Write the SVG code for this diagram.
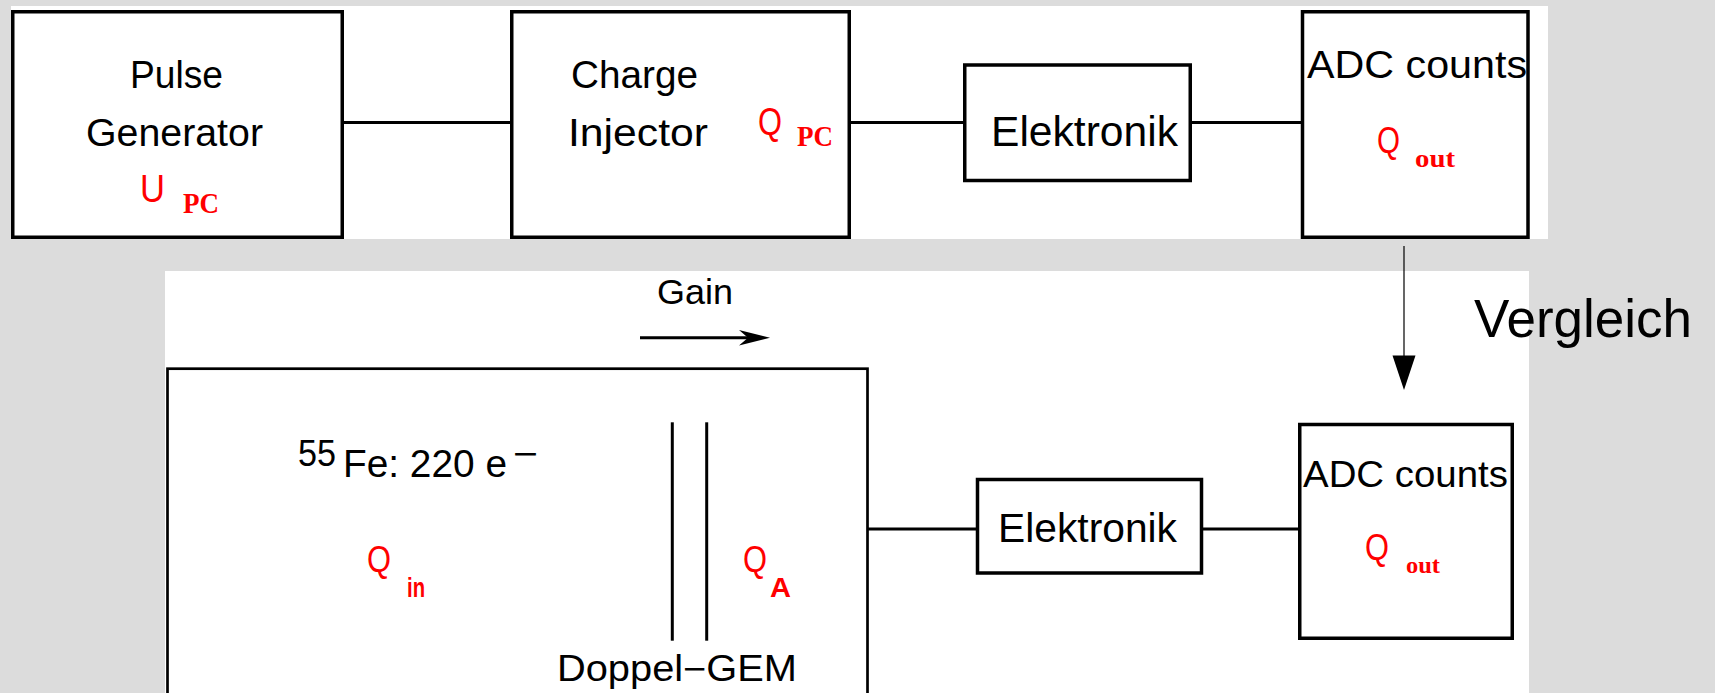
<svg xmlns="http://www.w3.org/2000/svg" width="1715" height="693" viewBox="0 0 1715 693">
<style>
.box{fill:#ffffff;stroke:#000000;stroke-width:3.5}
.bigbox{fill:#ffffff;stroke:#000000;stroke-width:2.7}
.wire{stroke:#000000;stroke-width:3;fill:none}
.t{font-family:"Liberation Sans",Arial,sans-serif;fill:#000000}
.q{font-family:"Liberation Sans",Arial,sans-serif;fill:#ff0000}
.sub{font-family:"Liberation Serif","Times New Roman",serif;font-weight:bold;fill:#ff0000}
.subs{font-family:"Liberation Sans",Arial,sans-serif;font-weight:bold;fill:#ff0000}
</style>
<rect x="0" y="0" width="1715" height="693" fill="#dcdcdc"/>
<rect x="11" y="6" width="1537" height="233" fill="#ffffff"/>
<rect x="165" y="271" width="1364" height="422" fill="#ffffff"/>

<g id="connectors">
<line class="wire" x1="344" y1="122.5" x2="510" y2="122.5"/>
<line class="wire" x1="851" y1="122.5" x2="963" y2="122.5"/>
<line class="wire" x1="1192" y1="122.5" x2="1301" y2="122.5"/>
<line x1="1404" y1="246" x2="1404" y2="360" stroke="#000" stroke-width="1.2"/>
<polygon points="1404,390 1392.5,355.5 1415.5,355.5" fill="#000"/>
<line class="wire" x1="868" y1="529" x2="976" y2="529"/>
<line class="wire" x1="1203" y1="529" x2="1298" y2="529"/>
</g>

<g id="pulse-generator">
<rect class="box" x="12.75" y="11.75" width="329.5" height="225.5"/>
<text class="t" x="130" y="88" font-size="38" textLength="93" lengthAdjust="spacingAndGlyphs">Pulse</text>
<text class="t" x="86" y="146" font-size="38" textLength="177" lengthAdjust="spacingAndGlyphs">Generator</text>
<text class="q" x="140" y="202" font-size="38" textLength="25" lengthAdjust="spacingAndGlyphs">U</text>
<text class="sub" x="183" y="213" font-size="30" textLength="36" lengthAdjust="spacingAndGlyphs">PC</text>
</g>

<g id="charge-injector">
<rect class="box" x="511.75" y="11.75" width="337.5" height="225.5"/>
<text class="t" x="571" y="88" font-size="38" textLength="127" lengthAdjust="spacingAndGlyphs">Charge</text>
<text class="t" x="568" y="146" font-size="38" textLength="140" lengthAdjust="spacingAndGlyphs">Injector</text>
<text class="q" x="758" y="135" font-size="38" textLength="24" lengthAdjust="spacingAndGlyphs">Q</text>
<text class="sub" x="797" y="146" font-size="30" textLength="36" lengthAdjust="spacingAndGlyphs">PC</text>
</g>

<g id="elektronik-top">
<rect class="box" x="964.75" y="65" width="225.5" height="115.5"/>
<text class="t" x="991" y="146" font-size="42" textLength="187" lengthAdjust="spacingAndGlyphs">Elektronik</text>
</g>

<g id="adc-top">
<rect class="box" x="1302.5" y="11.75" width="225.5" height="225.5"/>
<text class="t" x="1307" y="78" font-size="38" textLength="220" lengthAdjust="spacingAndGlyphs">ADC counts</text>
<text class="q" x="1377" y="153" font-size="36" textLength="23" lengthAdjust="spacingAndGlyphs">Q</text>
<text class="sub" x="1415" y="167" font-size="26" textLength="40" lengthAdjust="spacingAndGlyphs">out</text>
</g>

<g id="vergleich">
<text class="t" x="1474" y="337" font-size="53">Vergleich</text>
</g>

<g id="gain">
<text class="t" x="657" y="304" font-size="35" textLength="76" lengthAdjust="spacingAndGlyphs">Gain</text>
<line class="wire" x1="640" y1="337.7" x2="760" y2="337.7"/>
<polygon points="770,337.7 739,330 748,337.7 739,345.5" fill="#000"/>
</g>

<g id="doppel-gem-box">
<rect class="bigbox" x="167.5" y="368.7" width="700" height="360"/>
<text class="t" x="298" y="466" font-size="37" textLength="38" lengthAdjust="spacingAndGlyphs">55</text>
<text class="t" x="343" y="477" font-size="38" textLength="164" lengthAdjust="spacingAndGlyphs">Fe: 220 e</text>
<text class="t" x="513" y="465.5" font-size="36" textLength="25" lengthAdjust="spacingAndGlyphs">−</text>
<text class="q" x="367" y="572" font-size="37" textLength="24" lengthAdjust="spacingAndGlyphs">Q</text>
<text class="subs" x="407" y="597" font-size="28" textLength="18" lengthAdjust="spacingAndGlyphs">in</text>
<line class="wire" x1="672.3" y1="422.3" x2="672.3" y2="640.7"/>
<line class="wire" x1="706.7" y1="422.3" x2="706.7" y2="640.7"/>
<text class="q" x="743" y="572" font-size="37" textLength="24" lengthAdjust="spacingAndGlyphs">Q</text>
<text class="subs" x="770" y="597" font-size="28" textLength="21" lengthAdjust="spacingAndGlyphs">A</text>
<text class="t" x="557" y="681" font-size="36" textLength="240" lengthAdjust="spacingAndGlyphs">Doppel−GEM</text>
</g>

<g id="elektronik-bottom">
<rect class="box" x="977.5" y="479.5" width="224" height="93.5"/>
<text class="t" x="998" y="542" font-size="41" textLength="179" lengthAdjust="spacingAndGlyphs">Elektronik</text>
</g>

<g id="adc-bottom">
<rect class="box" x="1299.75" y="424.5" width="212.5" height="213.75"/>
<text class="t" x="1303" y="487" font-size="37" textLength="205" lengthAdjust="spacingAndGlyphs">ADC counts</text>
<text class="q" x="1365" y="560" font-size="36" textLength="24" lengthAdjust="spacingAndGlyphs">Q</text>
<text class="sub" x="1406" y="573" font-size="24" textLength="34" lengthAdjust="spacingAndGlyphs">out</text>
</g>
</svg>
